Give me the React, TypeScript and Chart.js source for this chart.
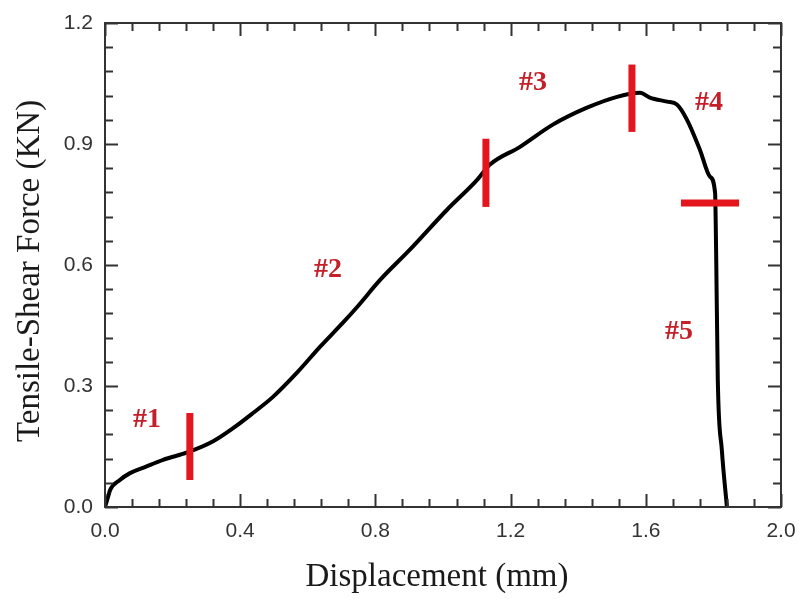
import React, { useEffect, useRef } from "react";
import { Chart, registerables } from "chart.js";

Chart.register(...registerables);

// Curve: displacement (mm) vs tensile-shear force (KN)
const dispX = [0, 0.009, 0.015, 0.044, 0.074, 0.118, 0.172, 0.246, 0.320, 0.380, 0.438, 0.497, 0.568, 0.636, 0.704, 0.746, 0.814, 0.902, 1.012, 1.101, 1.139, 1.228, 1.325, 1.426, 1.515, 1.583, 1.612, 1.663, 1.692, 1.722, 1.760, 1.790, 1.805, 1.808, 1.813, 1.825, 1.840];
const forceY = [0, 0.025, 0.042, 0.067, 0.084, 0.099, 0.117, 0.136, 0.163, 0.196, 0.233, 0.273, 0.333, 0.397, 0.457, 0.496, 0.563, 0.638, 0.737, 0.811, 0.849, 0.893, 0.948, 0.990, 1.017, 1.027, 1.015, 1.005, 0.998, 0.960, 0.886, 0.819, 0.779, 0.638, 0.315, 0.141, 0];

// Red stage markers (segment endpoints)
const markerX1 = [0.251, 1.127, 1.559, 1.704];
const markerY1 = [0.067, 0.744, 0.930, 0.754];
const markerX2 = [0.251, 1.127, 1.559, 1.876];
const markerY2 = [0.233, 0.913, 1.097, 0.754];

// Stage labels
const labelText = ["#1", "#2", "#3", "#4", "#5"];
const labelX = [0.124, 0.660, 1.266, 1.787, 1.698];
const labelY = [0.216, 0.588, 1.052, 1.002, 0.434];

// Axes
const xMin = 0, xMax = 2.0, xStep = 0.4;
const yMin = 0, yMax = 1.2, yStep = 0.3;
const xTitle = "Displacement (mm)";
const yTitle = "Tensile-Shear Force (KN)";

export default function App() {
  const ref = useRef<HTMLCanvasElement | null>(null);

  useEffect(() => {
    const canvas = ref.current;
    if (!canvas) return;

    const framePlugin = {
      id: "frame",
      afterDatasetsDraw(chart: any) {
        const { ctx, chartArea } = chart;
        const xs = chart.scales.x;
        const ys = chart.scales.y;
        const { left, right, top, bottom } = chartArea;
        ctx.save();
        ctx.strokeStyle = "#333";
        ctx.lineWidth = 2;
        ctx.strokeRect(left, top, right - left, bottom - top);
        const major = 13, minor = 8;
        const xt = xs.ticks.map((t: any) => t.value);
        for (let i = 0; i < xt.length; i++) {
          const list = [{ v: xt[i], l: major }];
          if (i < xt.length - 1) {
            for (let k = 1; k < 5; k++) list.push({ v: xt[i] + ((xt[i + 1] - xt[i]) * k) / 5, l: minor });
          }
          for (const t of list) {
            const px = Math.round(xs.getPixelForValue(t.v)) + 0.5;
            ctx.beginPath();
            ctx.moveTo(px, bottom);
            ctx.lineTo(px, bottom - t.l);
            ctx.moveTo(px, top);
            ctx.lineTo(px, top + t.l);
            ctx.stroke();
          }
        }
        const yt = ys.ticks.map((t: any) => t.value);
        for (let i = 0; i < yt.length; i++) {
          const list = [{ v: yt[i], l: major }];
          if (i < yt.length - 1) {
            for (let k = 1; k < 5; k++) list.push({ v: yt[i] + ((yt[i + 1] - yt[i]) * k) / 5, l: minor });
          }
          for (const t of list) {
            const py = Math.round(ys.getPixelForValue(t.v)) + 0.5;
            ctx.beginPath();
            ctx.moveTo(left, py);
            ctx.lineTo(left + t.l, py);
            ctx.moveTo(right, py);
            ctx.lineTo(right - t.l, py);
            ctx.stroke();
          }
        }
        // stage labels
        ctx.fillStyle = "#c4202a";
        ctx.font = "bold 28px 'Liberation Serif', 'DejaVu Serif', serif";
        ctx.textAlign = "center";
        ctx.textBaseline = "middle";
        for (let i = 0; i < labelText.length; i++) {
          ctx.fillText(labelText[i], xs.getPixelForValue(labelX[i]), ys.getPixelForValue(labelY[i]));
        }
        ctx.restore();
      },
      afterDraw(chart: any) {
        const { ctx } = chart;
        ctx.save();
        ctx.fillStyle = "#1a1a1a";
        ctx.font = "33px 'Liberation Serif', 'DejaVu Serif', serif";
        ctx.textAlign = "center";
        ctx.textBaseline = "middle";
        ctx.fillText(xTitle, 437, 577);
        ctx.translate(30, 271);
        ctx.rotate(-Math.PI / 2);
        ctx.fillText(yTitle, 0, 0);
        ctx.restore();
      },
    };

    const markerSets = markerX1.map((_, i) => ({
      label: "m" + i,
      data: [
        { x: markerX1[i], y: markerY1[i] },
        { x: markerX2[i], y: markerY2[i] },
      ],
      showLine: true,
      borderColor: "#e3161d",
      backgroundColor: "#e3161d",
      borderWidth: 7,
      borderCapStyle: "butt",
      pointRadius: 0,
      order: 0,
    }));

    const chart = new Chart(canvas, {
      type: "scatter",
      data: {
        datasets: [
          ...markerSets,
          {
            label: "curve",
            data: dispX.map((x, i) => ({ x, y: forceY[i] })),
            showLine: true,
            borderColor: "#000",
            backgroundColor: "#000",
            borderWidth: 4,
            pointRadius: 0,
            cubicInterpolationMode: "monotone",
            order: 1,
          },
        ] as any,
      },
      options: {
        animation: false,
        responsive: false,
        maintainAspectRatio: false,
        layout: { padding: { left: 0, top: 23, right: 18, bottom: 0 } },
        plugins: { legend: { display: false }, tooltip: { enabled: false }, title: { display: false } },
        scales: {
          x: {
            type: "linear",
            min: xMin,
            max: xMax,
            grid: { display: false, drawTicks: false },
            border: { display: false },
            ticks: {
              stepSize: xStep,
              padding: 12,
              color: "#333",
              font: { family: "'Liberation Sans', Arial, sans-serif", size: 21 },
              maxRotation: 0,
              autoSkip: false,
              callback: (v: any) => Number(v).toFixed(1),
            },
            afterFit: (s: any) => {
              s.height = 92;
              s.paddingLeft = 0;
              s.paddingRight = 0;
            },
          },
          y: {
            type: "linear",
            min: yMin,
            max: yMax,
            grid: { display: false, drawTicks: false },
            border: { display: false },
            ticks: {
              stepSize: yStep,
              padding: 12,
              color: "#333",
              font: { family: "'Liberation Sans', Arial, sans-serif", size: 21 },
              autoSkip: false,
              callback: (v: any) => Number(v).toFixed(1),
            },
            afterFit: (s: any) => {
              s.width = 105;
              s.paddingTop = 0;
              s.paddingBottom = 0;
            },
          },
        },
      },
      plugins: [framePlugin],
    } as any);

    return () => chart.destroy();
  }, []);

  return (
    <div style={{ position: "fixed", left: 0, top: 0, width: 799, height: 599, background: "#fff" }}>
      <canvas ref={ref} width={799} height={599} style={{ width: 799, height: 599, display: "block" }} />
    </div>
  );
}
